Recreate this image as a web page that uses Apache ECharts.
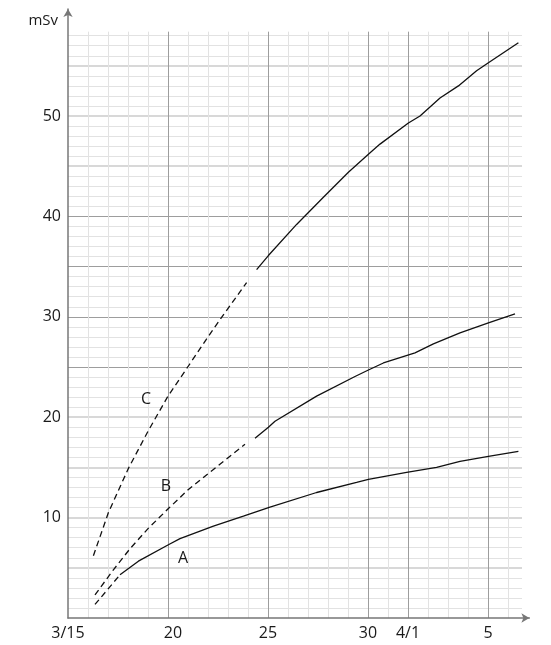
<!DOCTYPE html>
<html>
<head>
<meta charset="utf-8">
<script src="https://cdn.jsdelivr.net/npm/echarts@6/dist/echarts.min.js"></script>
<style>
  html, body { margin: 0; padding: 0; background: #fff; }
  #chart { width: 551px; height: 645px; }
</style>
</head>
<body>
<div id="chart"></div>
<script>
// x values are days counted from 3/15, y values are cumulative dose in mSv.

// Tick labels on the date axis
const dayTicks = [0, 5, 10, 15, 17, 21];
const dayTickLabels = ['3/15', '20', '25', '30', '4/1', '5'];
// Tick labels on the dose axis
const doseTicks = [10, 20, 30, 40, 50];

// Curve A
const aEstDays = [1.35, 2.6];
const aEstDose = [1.35, 4.3];
const aDays = [2.6, 3.52, 5.02, 5.6, 7.27, 8.77, 10.1, 12.43, 14.43, 15.02, 16.93, 18.43, 19.6, 21.02, 22.52];
const aDose = [4.3, 5.66, 7.3, 7.9, 9.15, 10.15, 11.05, 12.5, 13.5, 13.8, 14.5, 15.0, 15.6, 16.1, 16.6];

// Curve B
const bEstDays = [1.35, 2.27, 3.1, 4.0, 5.02, 6.02, 7.27, 8.85];
const bEstDose = [2.3, 4.8, 6.9, 8.9, 10.9, 12.8, 14.8, 17.3];
const bDays = [9.35, 10.02, 10.35, 12.43, 14.35, 15.02, 15.77, 17.35, 18.27, 19.6, 21.02, 22.35];
const bDose = [17.9, 19.0, 19.6, 22.1, 24.05, 24.7, 25.4, 26.4, 27.3, 28.4, 29.4, 30.3];

// Curve C
const cEstDays = [1.27, 2.02, 3.02, 4.0, 5.0, 6.02, 7.0, 7.77, 8.93];
const cEstDose = [6.2, 10.5, 14.9, 18.6, 22.1, 25.1, 28.0, 30.2, 33.4];
const cDays = [9.43, 10.02, 11.43, 12.77, 14.02, 15.02, 15.6, 17.02, 17.6, 18.6, 19.52, 20.43, 21.02, 22.52];
const cDose = [34.7, 36.1, 39.2, 41.9, 44.4, 46.2, 47.2, 49.3, 50.0, 51.8, 53.0, 54.5, 55.3, 57.3];

// Curve names and where they are written
const curveNames = ['A', 'B', 'C'];
const nameDays = [5.75, 4.9, 3.9];
const nameDose = [5.95, 13.15, 21.8];

// ---- layout ----
const LEFT = 68;          // pixel x of day 0
const BASE = 618;         // pixel y of 0 mSv
const PX_DAY = 20;
const PX_MSV = 10.04;
const GRID_X_MAX = 22.7, GRID_Y_MAX = 58.4;    // ruled area
const FRAME_X_MAX = 23.07, FRAME_Y_MAX = 60.66; // axis lines with arrows

function gridBox(xMax, yMax) {
  const w = xMax * PX_DAY, h = yMax * PX_MSV;
  return { left: LEFT, top: BASE - h, width: w, height: h };
}

const FONT = '"Open Sans", "Noto Sans", sans-serif';
const TEXT = '#1a1a1a';
const AXIS = '#777';
const RULE_DARK = '#9d9d9d';
const RULE_LIGHT = '#e2e2e2';
const RULE_MID = '#d8d8d8';

const zip = (xs, ys) => xs.map((x, i) => [x, ys[i]]);

// vertical rules: one per day, darker on labelled days
const vColors = [];
for (let d = 0; d <= Math.floor(GRID_X_MAX); d++) {
  vColors.push(d === 0 ? 'rgba(0,0,0,0)' : (dayTicks.includes(d) ? RULE_DARK : RULE_LIGHT));
}
// horizontal rules every 5 mSv: wide light ones and thin dark ones
const darkRows = [25, 30, 35, 40];
const wideColors = [], thinColors = [];
for (let v = 0; v <= GRID_Y_MAX; v += 5) {
  const dark = darkRows.includes(v);
  wideColors.push(v === 0 || dark ? 'rgba(0,0,0,0)' : RULE_MID);
  thinColors.push(dark ? RULE_DARK : 'rgba(0,0,0,0)');
}

const lineBase = {
  type: 'line', xAxisIndex: 1, yAxisIndex: 1,
  symbol: 'none', smooth: false, silent: true, animation: false, z: 3,
};
const solid = { color: '#111', width: 1.3, type: 'solid' };
const dashed = { color: '#111', width: 1.3, type: [6, 4] };

function frameAxisLine() {
  return {
    show: true, symbol: ['none', 'arrow'], symbolSize: [7, 8],
    lineStyle: { color: AXIS, width: 1.5 },
  };
}

const chart = echarts.init(document.getElementById('chart'), null, { renderer: 'canvas' });

chart.setOption({
  backgroundColor: '#fff',
  animation: false,
  textStyle: { fontFamily: FONT, color: TEXT },
  grid: [
    gridBox(FRAME_X_MAX, FRAME_Y_MAX),
    gridBox(GRID_X_MAX, GRID_Y_MAX),
  ],
  xAxis: [
    {
      type: 'value', gridIndex: 0, min: 0, max: FRAME_X_MAX, interval: 1,
      axisLine: frameAxisLine(),
      axisTick: { show: false },
      splitLine: { show: false },
      axisLabel: {
        margin: 7, fontSize: 16, fontFamily: FONT, color: TEXT,
        showMaxLabel: false,
        formatter: v => {
          const i = dayTicks.indexOf(v);
          if (i < 0) return '';
          // the "20" sits a little to the right of its rule
          return i === 1 ? '{nudge|' + dayTickLabels[i] + '}' : dayTickLabels[i];
        },
        rich: { nudge: { fontSize: 16, fontFamily: FONT, color: TEXT, padding: [0, 0, 0, 10] } },
      },
      z: 5,
    },
    {
      type: 'value', gridIndex: 1, min: 0, max: GRID_X_MAX, interval: 1,
      axisLine: { show: false }, axisTick: { show: false }, axisLabel: { show: false },
      splitLine: { show: true, showMaxLine: false, lineStyle: { color: vColors, width: 1 } },
    },
  ],
  yAxis: [
    {
      type: 'value', gridIndex: 0, min: 0, max: FRAME_Y_MAX, interval: 10,
      name: 'mSv', nameLocation: 'end', nameGap: -12,
      nameTextStyle: { fontSize: 15, fontFamily: FONT, color: TEXT, align: 'right',
                       verticalAlign: 'middle', padding: [0, 10, 0, 0] },
      axisLine: frameAxisLine(),
      axisTick: { show: false },
      splitLine: { show: false },
      axisLabel: {
        margin: 7, fontSize: 16, fontFamily: FONT, color: TEXT,
        formatter: v => doseTicks.includes(v) ? String(v) : '',
      },
      z: 5,
    },
    {
      type: 'value', gridIndex: 1, min: 0, max: GRID_Y_MAX, interval: 5,
      axisLine: { show: false }, axisTick: { show: false }, axisLabel: { show: false },
      minorTick: { show: false, splitNumber: 5 },
      minorSplitLine: { show: true, lineStyle: { color: RULE_LIGHT, width: 1 } },
      splitLine: { show: true, showMaxLine: false, lineStyle: { color: wideColors, width: 2 } },
    },
    {
      type: 'value', gridIndex: 1, min: 0, max: GRID_Y_MAX, interval: 5,
      axisLine: { show: false }, axisTick: { show: false }, axisLabel: { show: false },
      splitLine: { show: true, showMaxLine: false, lineStyle: { color: thinColors, width: 1 } },
    },
  ],
  series: [
    Object.assign({}, lineBase, { name: 'A-est', data: zip(aEstDays, aEstDose), lineStyle: dashed }),
    Object.assign({}, lineBase, { name: 'A', data: zip(aDays, aDose), lineStyle: solid }),
    Object.assign({}, lineBase, { name: 'B-est', data: zip(bEstDays, bEstDose), lineStyle: dashed }),
    Object.assign({}, lineBase, { name: 'B', data: zip(bDays, bDose), lineStyle: solid }),
    Object.assign({}, lineBase, { name: 'C-est', data: zip(cEstDays, cEstDose), lineStyle: dashed }),
    Object.assign({}, lineBase, { name: 'C', data: zip(cDays, cDose), lineStyle: solid }),
    {
      type: 'scatter', xAxisIndex: 1, yAxisIndex: 1, silent: true, z: 4,
      symbol: 'circle', symbolSize: 2, itemStyle: { color: 'rgba(0,0,0,0)' },
      data: curveNames.map((n, i) => ({ value: [nameDays[i], nameDose[i]], name: n })),
      label: {
        show: true, position: 'inside', formatter: p => p.name,
        fontSize: 16, fontFamily: FONT, color: TEXT, opacity: 1,
      },
    },
  ],
});
</script>
</body>
</html>
